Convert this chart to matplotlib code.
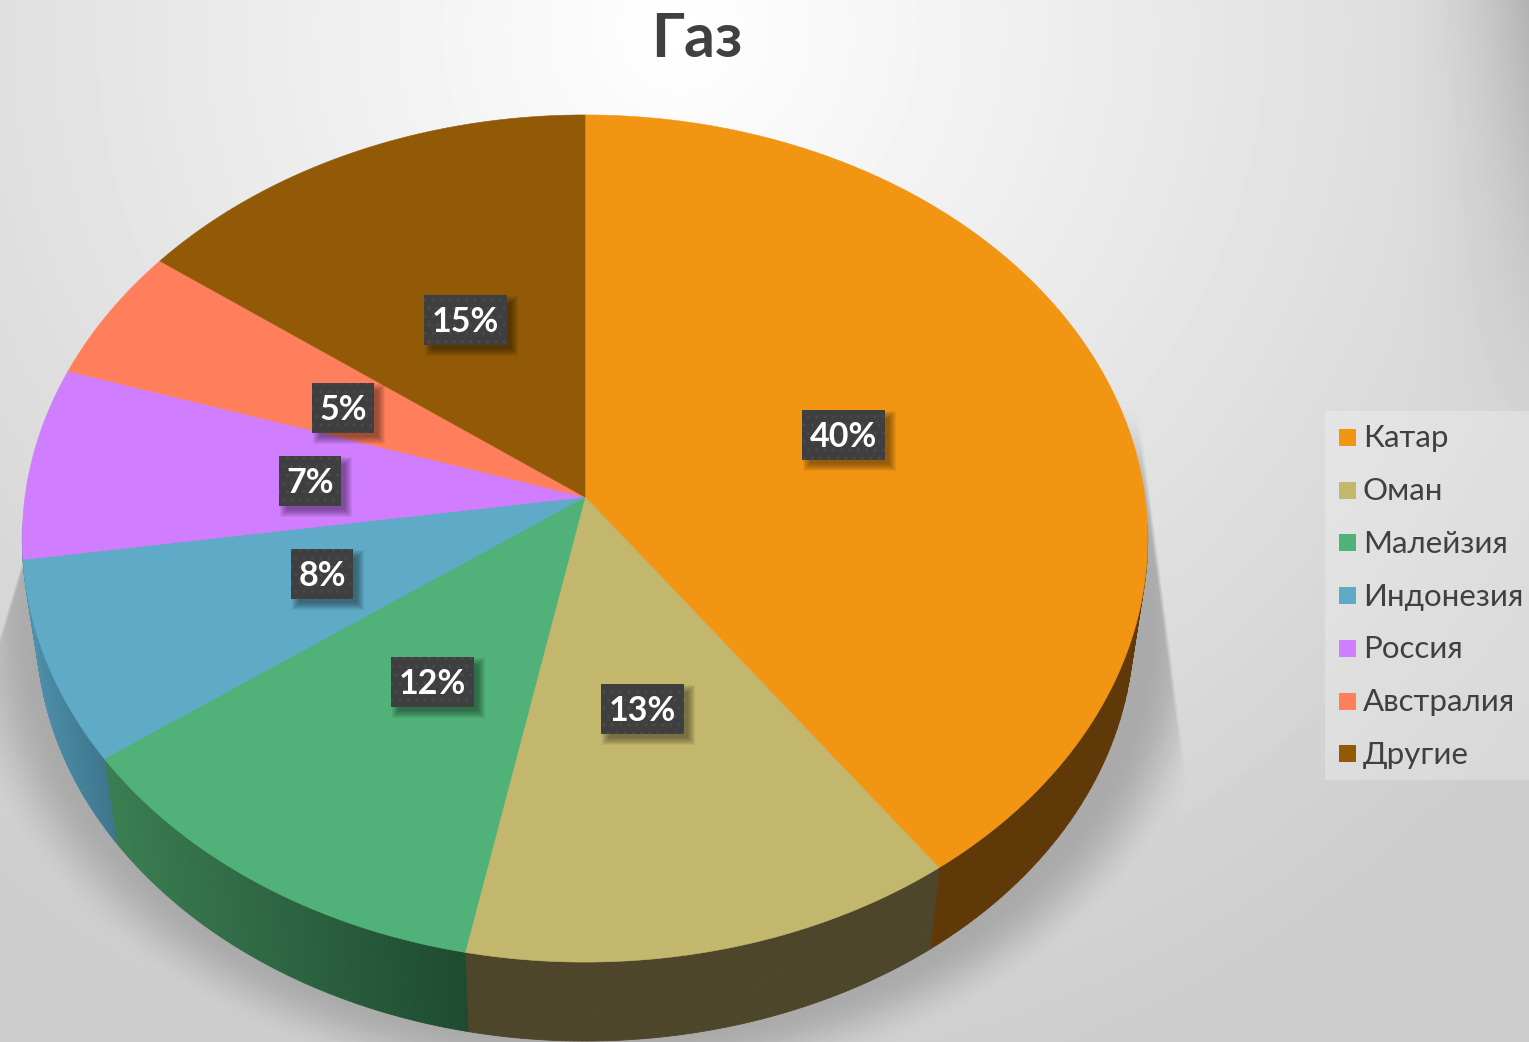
#!/usr/bin/env python3
# -*- coding: utf-8 -*-
import numpy as np
import matplotlib as mpl
mpl.use('Agg')
import matplotlib.pyplot as plt
from matplotlib.patches import Polygon, Rectangle

title = 'Газ'
countries = ['Катар', 'Оман', 'Малейзия', 'Индонезия', 'Россия', 'Австралия', 'Другие']
# labels in the picture are rounded, the slices themselves are not quite whole numbers
shares = [40.12, 12.98, 11.9, 7.65, 7.35, 5.15, 14.85]

colors = ['#f29512', '#c3b76d', '#50b278', '#5faac6', '#d07dff', '#ff7f5c', '#925a07']
# side colours, left end and right end of each slice's wall
# (the sliver under Россия shows in the blue of the wall next to it)
side_left = ['#603908', '#4e462a', '#3b7e52', '#4f90aa', '#4f90aa', '#994c37', '#583604']
side_right = ['#603908', '#4e462a', '#1e4b30', '#3e768e', '#4f90aa', '#994c37', '#583604']
# hand placed labels, pixels off the default spot
nudge_x = [0, -4, 0, -5, -4, -4, -2]
nudge_y = [-1, 0, 3, -3, 0, 2, -2]

W, H = 1529, 1042
CX, CY = 585, 497    # apex of the pie
A, B, K = 560, 419.5, 0.098   # perspective of the top face
DROP, SHRINK = 103, 0.975     # bottom rim of the wall
FONT = ['Lato', 'DejaVu Sans']


def project(theta, r=1.0):
    x, y = r * np.sin(theta), r * np.cos(theta)
    den = 1 + K * y
    return CX + A * x / den, CY - B * y / den


def lower(px, py):
    return CX + SHRINK * (px - CX), SHRINK * py + DROP


def mix(c1, c2, t):
    return (1 - t) * np.array(mpl.colors.to_rgb(c1)) + t * np.array(mpl.colors.to_rgb(c2))


def background():
    yy, xx = np.mgrid[0:H, 0:W]
    r = np.hypot(xx - 680, yy - 30)
    val = np.maximum(255 - 46 * r / 1000, 205)
    val -= 38 * np.clip((xx - 1380) / 149, 0, 1) ** 2 * np.clip(1 - yy / 420, 0, 1)
    # floor shadow: soft ellipse cut by two straight edges
    d = np.sqrt(((xx - 590) / 640) ** 2 + ((yy - 630) / 470) ** 2)
    soft = np.clip((1.0 - d) / 0.13, 0, 1)
    soft = soft * soft * (3 - 2 * soft)
    right = np.clip((1140 + 0.13 * (yy - 420) - xx) / 4, 0, 1)
    left = np.clip((xx - (22 - 0.3 * (yy - 560))) / 3, 0, 1)
    top = np.clip((yy - 400) / 60, 0, 1)
    shadow = soft * right * left * top
    val = val * (1 - shadow) + 170 * shadow
    return np.clip(val, 0, 255) / 255


fig = plt.figure(figsize=(W / 100, H / 100), dpi=100)
ax = fig.add_axes([0, 0, 1, 1])
ax.imshow(background(), cmap='gray', vmin=0, vmax=1, extent=(0, W, H, 0), aspect='auto', zorder=0)
ax.set_xlim(0, W)
ax.set_ylim(H, 0)
ax.axis('off')

edges = 2 * np.pi * np.cumsum([0] + shares) / sum(shares)

# walls first, only the front part of the rim shows
for i in range(len(shares)):
    t = np.linspace(edges[i], edges[i + 1], 121)
    px, py = project(t)
    qx, qy = lower(px, py)
    span = max(qx.max() - qx.min(), 1)
    for j in range(len(t) - 1):
        if py[j] < 525 or py[j + 1] < 525:
            continue
        pts = [(px[j], py[j]), (px[j + 1], py[j + 1]), (qx[j + 1], qy[j + 1]), (qx[j], qy[j])]
        c = mix(side_left[i], side_right[i], (qx[j] - qx.min()) / span)
        ax.add_patch(Polygon(pts, closed=True, facecolor=c, edgecolor=c, lw=0.6, zorder=2))

# top face
for i in range(len(shares)):
    t = np.linspace(edges[i], edges[i + 1], 121)
    px, py = project(t)
    pts = np.column_stack([np.r_[CX, px], np.r_[CY, py]])
    ax.add_patch(Polygon(pts, closed=True, facecolor=colors[i], edgecolor=colors[i], lw=0.4, zorder=3))

# data labels
for i, s in enumerate(shares):
    lx, ly = project((edges[i] + edges[i + 1]) / 2, 0.49)
    lx, ly = lx + 1 + nudge_x[i], ly + 1 + nudge_y[i]
    w = 83 if s >= 10 else 62
    h = 50
    for e in range(8):
        grow = 5 - e
        ax.add_patch(Rectangle((lx - w / 2 + 6 - grow, ly - h / 2 + 6 - grow), w + 2 * grow, h + 2 * grow,
                               facecolor='black', edgecolor='none', alpha=0.055, zorder=4))
    ax.add_patch(Rectangle((lx - w / 2, ly - h / 2), w, h, facecolor='#3f3f3f', edgecolor='#4a4a4a',
                           hatch='..', linewidth=0, zorder=5))
    ax.text(lx, ly + 2, '%d%%' % round(s), color='white', fontsize=24.5, fontweight='bold', family=FONT,
            ha='center', va='center', zorder=6)

ax.text(697, 39, title, color='#404040', fontsize=44, fontweight='bold', family=FONT,
        ha='center', va='center', zorder=6)

# legend
ax.add_patch(Rectangle((1325, 411), 204, 369, facecolor='white', edgecolor='none', alpha=0.25, zorder=1))
for i, name in enumerate(countries):
    y = 437.5 + 52.7 * i
    ax.add_patch(Rectangle((1339, y - 8.5), 17, 17, facecolor=colors[i], edgecolor='none', zorder=3))
    ax.text(1363, y + 1, name, color='#404040', fontsize=22.5, family=FONT, ha='left', va='center', zorder=6)

fig.savefig('out.png', dpi=100)
